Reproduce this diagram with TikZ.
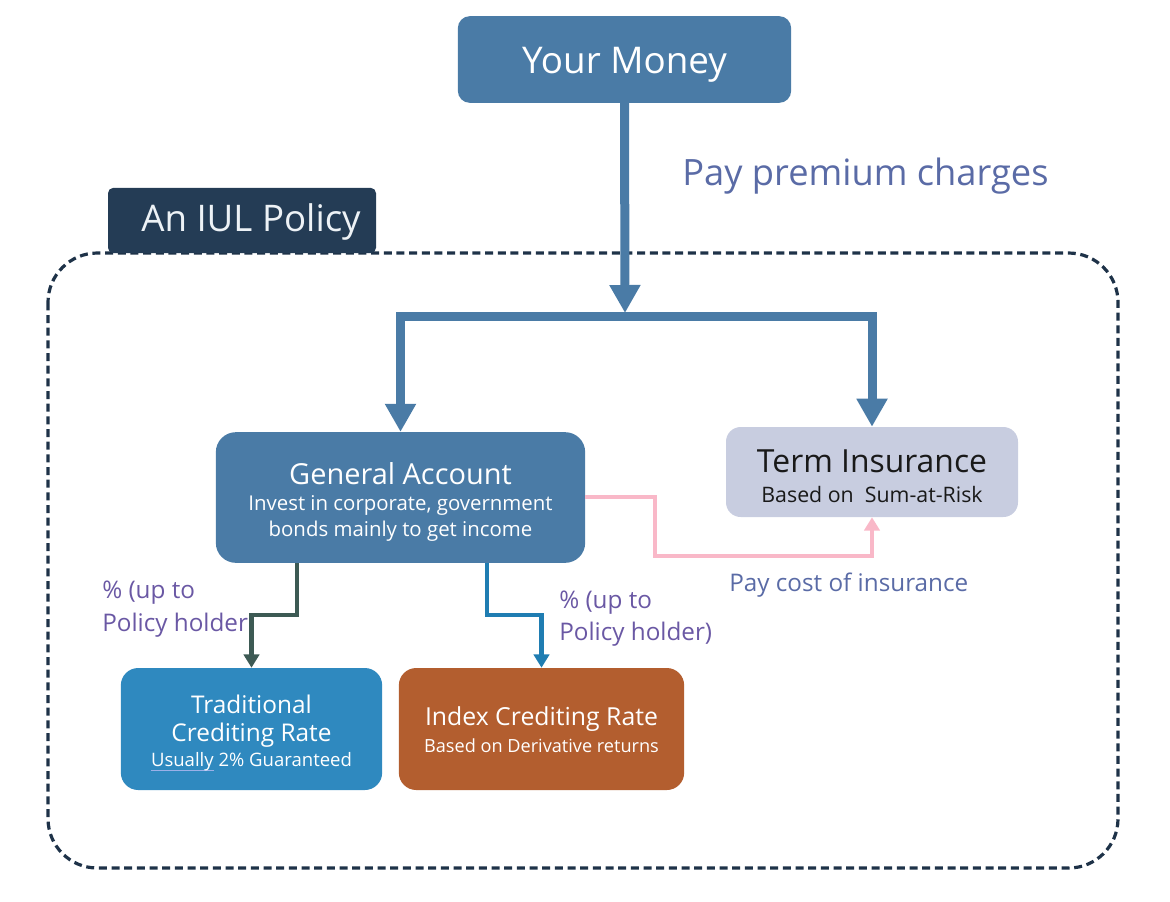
\documentclass[tikz,border=0pt]{standalone}
\usepackage{fontspec}
\setmainfont{Open Sans}
\usetikzlibrary{arrows.meta}
\definecolor{ymblue}{HTML}{4A7BA6}
\definecolor{iulnavy}{HTML}{243C55}
\definecolor{framec}{HTML}{1E3248}
\definecolor{termfill}{HTML}{C8CDE0}
\definecolor{tradfill}{HTML}{2F89BF}
\definecolor{indexfill}{HTML}{B35E2F}
\definecolor{pinkc}{HTML}{F9B8C8}
\definecolor{greenc}{HTML}{3D5A54}
\definecolor{bluec}{HTML}{1F7DB2}
\definecolor{purplec}{HTML}{6A58A4}
\definecolor{payc}{HTML}{5A6BA6}
\definecolor{ulc}{HTML}{9BB0E8}
\newsavebox\ulbox
\newcommand\myul[1]{\sbox\ulbox{#1}\rlap{\color{ulc}\rule[-2.8pt]{\wd\ulbox}{0.7pt}}\usebox\ulbox}
\newcommand\fs[1]{\fontsize{#1}{1.2\dimexpr#1pt\relax}\selectfont}
\tikzset{
  box/.style={rounded corners=#1, inner sep=0pt, draw=none},
  txt/.style={inner sep=0pt, anchor=center},
  thick arrow/.style={draw=ymblue, line width=6.75pt, line join=miter, -{Triangle[length=21pt,width=22pt]}},
  thin arrow/.style={line width=#1, line join=miter, -{Triangle[length=10pt,width=11.5pt]}},
}
\begin{document}
\begin{tikzpicture}[x=0.75pt,y=-0.75pt]
\useasboundingbox (0,0) rectangle (1170,901);
% dashed frame
\draw[framec, line width=2.4pt, dash pattern=on 6pt off 3.5pt, rounded corners=37pt] (48,253) rectangle (1118,868);
% boxes
\node[box=9pt, fill=ymblue, minimum width=250pt, minimum height=65pt] (ym) at (624.5,59.5) {};
\node[box=4pt, fill=iulnavy, minimum width=201pt, minimum height=49pt] (iul) at (242,220.5) {};
\node[box=15pt, fill=ymblue, minimum width=277pt, minimum height=98pt] (ga) at (400.5,497.5) {};
\node[box=11pt, fill=termfill, minimum width=219pt, minimum height=67.5pt] (ti) at (872,472) {};
\node[box=13pt, fill=tradfill, minimum width=196pt, minimum height=91.5pt] (tr) at (251.5,729) {};
\node[box=13pt, fill=indexfill, minimum width=214pt, minimum height=91.5pt] (ix) at (541.5,729) {};
% texts
\node[txt, text=white] (ymt) at (624.5,65) {\fs{27.6}Your Money};
\node[txt, text=white!90!ymblue] (iult) at (251,222) {\fs{27.5}An IUL Policy};
\node[txt, text=white] (gat1) at (400.5,474) {\fs{21.7}General Account};
\node[txt, text=white] (gat2) at (400.5,505) {\fs{15.3}Invest in corporate, government};
\node[txt, text=white] (gat3) at (400.5,531) {\fs{15.3}bonds mainly to get income};
\node[txt, text=black!90] (tit1) at (872,461) {\fs{23.9}Term Insurance};
\node[txt, text=black!90] (tit2) at (872,494) {\fs{16}Based on\ \ Sum-at-Risk};
\node[txt, text=white] (trt1) at (251.5,704) {\fs{18.3}Traditional};
\node[txt, text=white] (trt2) at (251.5,735) {\fs{18.3}Crediting Rate};
\node[txt, text=white] (trt3) at (251.5,762) {\fs{13.9}\myul{Usually} 2\% Guaranteed};
\node[txt, text=white] (ixt1) at (541.5,719) {\fs{18.6}Index Crediting Rate};
\node[txt, text=white] (ixt2) at (541.5,746) {\fs{13.6}Based on Derivative returns};
% labels
\node[txt, anchor=west, text=payc] (pp) at (682,176) {\fs{27.2}Pay premium charges};
\node[txt, anchor=west, text=payc] (pc) at (729,585) {\fs{18.2}Pay cost of insurance};
\node[txt, anchor=west, text=purplec] (l1a) at (102,593) {\fs{18.2}\% (up to};
\node[txt, anchor=west, text=purplec] (l1b) at (102,625) {\fs{18.2}Policy holder};
\node[txt, anchor=west, text=purplec] (l2a) at (559,603) {\fs{18.2}\% (up to};
\node[txt, anchor=west, text=purplec] (l2b) at (559,634) {\fs{18.2}Policy holder)};
% connectors
\coordinate (j) at (625,316);
\coordinate (jt) at (625,313);
\draw[thick arrow] (ym.south) -- (jt);
\draw[thick arrow] (j) -| (ga.north);
\draw[thick arrow] (j) -| (ti.north);
\coordinate (p1) at (655,497);
\coordinate (p2) at (655,556);
\draw[draw=pinkc, thin arrow=3pt] (ga.east |- p1) -- (p1) -- (p2) -| (ti.south);
\coordinate (g1) at (297,563);
\coordinate (g2) at (297,615);
\draw[draw=greenc, thin arrow=3.6pt] (g1) -- (g2) -| (tr.north);
\coordinate (b1) at (487,563);
\coordinate (b2) at (487,615);
\draw[draw=bluec, thin arrow=3.3pt] (b1) -- (b2) -| (ix.north);
\end{tikzpicture}
\end{document}
